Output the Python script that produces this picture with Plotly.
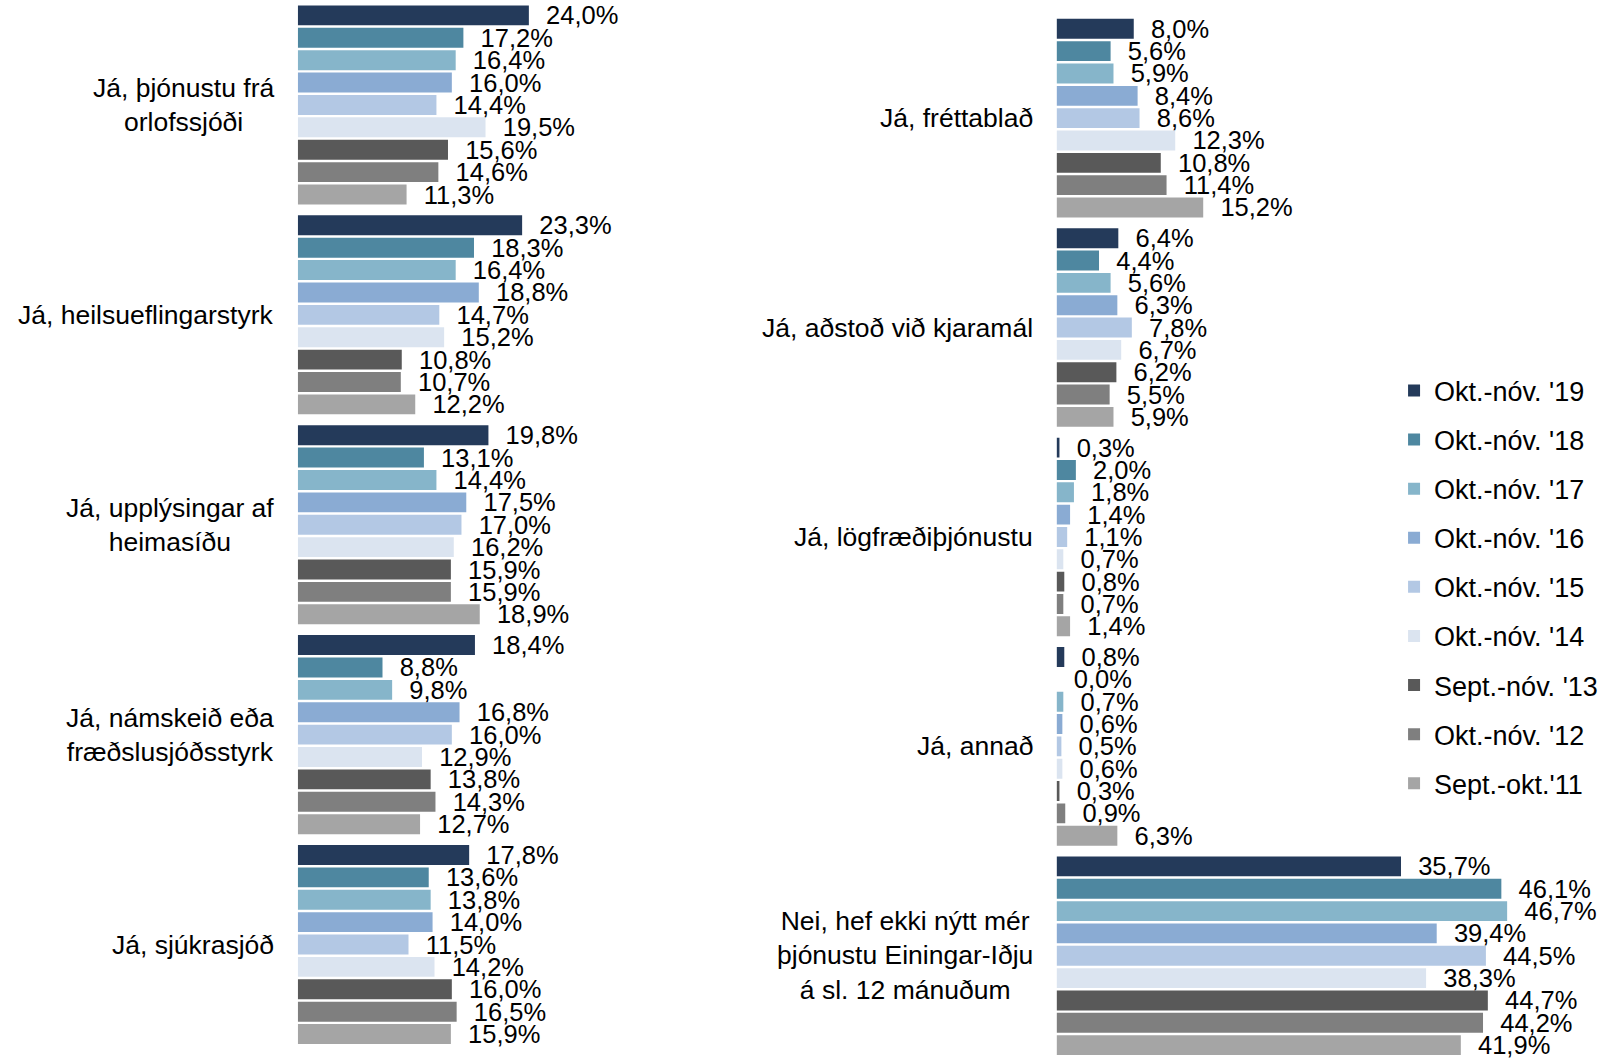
import plotly.graph_objects as go

series = ["Okt.-nóv. '19", "Okt.-nóv. '18", "Okt.-nóv. '17", "Okt.-nóv. '16", "Okt.-nóv. '15",
          "Okt.-nóv. '14", "Sept.-nóv. '13", "Okt.-nóv. '12", "Sept.-okt.'11"]
colors = ["#243a5a", "#4e87a0", "#86b5ca", "#8aabd3", "#b3c8e4",
          "#dbe4f0", "#595959", "#7f7f7f", "#a5a5a5"]

left_cats = ["Já, þjónustu frá<br>orlofssjóði", "Já, heilsueflingarstyrk",
             "Já, upplýsingar af<br>heimasíðu", "Já, námskeið eða<br>fræðslusjóðsstyrk",
             "Já, sjúkrasjóð"]
right_cats = ["Já, fréttablað", "Já, aðstoð við kjaramál", "Já, lögfræðiþjónustu",
              "Já, annað", "Nei, hef ekki nýtt mér<br>þjónustu Einingar-Iðju<br>á sl. 12 mánuðum"]

# values per category (rows) for each series (columns in order of `series`)
orlof = [24.0, 17.2, 16.4, 16.0, 14.4, 19.5, 15.6, 14.6, 11.3]
heilsa = [23.3, 18.3, 16.4, 18.8, 14.7, 15.2, 10.8, 10.7, 12.2]
heimasida = [19.8, 13.1, 14.4, 17.5, 17.0, 16.2, 15.9, 15.9, 18.9]
namskeid = [18.4, 8.8, 9.8, 16.8, 16.0, 12.9, 13.8, 14.3, 12.7]
sjukrasjod = [17.8, 13.6, 13.8, 14.0, 11.5, 14.2, 16.0, 16.5, 15.9]

frettabl = [8.0, 5.6, 5.9, 8.4, 8.6, 12.3, 10.8, 11.4, 15.2]
kjaramal = [6.4, 4.4, 5.6, 6.3, 7.8, 6.7, 6.2, 5.5, 5.9]
logfraedi = [0.3, 2.0, 1.8, 1.4, 1.1, 0.7, 0.8, 0.7, 1.4]
annad = [0.8, 0.0, 0.7, 0.6, 0.5, 0.6, 0.3, 0.9, 6.3]
nei = [35.7, 46.1, 46.7, 39.4, 44.5, 38.3, 44.7, 44.2, 41.9]

left_rows = [orlof, heilsa, heimasida, namskeid, sjukrasjod]
right_rows = [frettabl, kjaramal, logfraedi, annad, nei]

FONT = "Liberation Sans, Arial, sans-serif"


def fmt(v):
    return "  " + f"{v:.1f}".replace(".", ",") + "%"


fig = go.Figure()
for i, (name, col) in enumerate(zip(series, colors)):
    lv = [row[i] for row in left_rows]
    rv = [row[i] for row in right_rows]
    fig.add_trace(go.Bar(
        x=lv, y=left_cats, orientation="h", name=name, marker=dict(color=col, line=dict(width=0)),
        text=[fmt(v) for v in lv], textposition="outside", constraintext="none", cliponaxis=False,
        textfont=dict(family=FONT, size=25.5, color="#000"), legendgroup=name, showlegend=True,
        xaxis="x", yaxis="y", hoverinfo="skip"))
    fig.add_trace(go.Bar(
        x=rv, y=right_cats, orientation="h", name=name, marker=dict(color=col, line=dict(width=0)),
        text=[fmt(v) for v in rv], textposition="outside", constraintext="none", cliponaxis=False,
        textfont=dict(family=FONT, size=25.5, color="#000"), legendgroup=name, showlegend=False,
        xaxis="x2", yaxis="y2", hoverinfo="skip"))

annotations = []
for c in left_cats:
    annotations.append(dict(text=c, x=0, xref="x domain", y=c, yref="y", xanchor="right",
                            xshift=-22, align="center", showarrow=False,
                            font=dict(family=FONT, size=26.5, color="#000")))
for c in right_cats:
    annotations.append(dict(text=c, x=0, xref="x2 domain", y=c, yref="y2", xanchor="right",
                            xshift=-22, align="center", showarrow=False,
                            font=dict(family=FONT, size=26.5, color="#000")))

hidden_x = dict(showticklabels=False, showgrid=False, zeroline=False, showline=False, ticks="")
hidden_y = dict(showticklabels=False, showgrid=False, zeroline=False, showline=False, ticks="",
                type="category")

fig.update_layout(
    width=1621, height=1059, autosize=False,
    margin=dict(l=0, r=0, t=0, b=0, pad=0),
    paper_bgcolor="white", plot_bgcolor="white",
    barmode="group", bargap=0.04, bargroupgap=0.11,
    font=dict(family=FONT, color="#000"),
    xaxis=dict(domain=[0.1837, 0.3322], range=[0, 25], **hidden_x),
    yaxis=dict(domain=[0.009, 1.0], autorange=False, range=[4.5, -0.5], anchor="x", **hidden_y),
    xaxis2=dict(domain=[0.6518, 0.9494], range=[0, 50], anchor="y2", **hidden_x),
    yaxis2=dict(domain=[0.0, 0.9873], autorange=False, range=[4.493, -0.5], anchor="x2", **hidden_y),
    legend=dict(x=0.860, y=0.654, xanchor="left", yanchor="top", traceorder="grouped",
                tracegroupgap=11, font=dict(family=FONT, size=27, color="#000"),
                bgcolor="rgba(0,0,0,0)", itemclick=False, itemdoubleclick=False),
    annotations=annotations,
    showlegend=True,
)

fig.write_html("out.html", config={"displayModeBar": False, "staticPlot": True},
               post_script="document.body.style.margin='0';document.body.style.overflow='hidden';")
